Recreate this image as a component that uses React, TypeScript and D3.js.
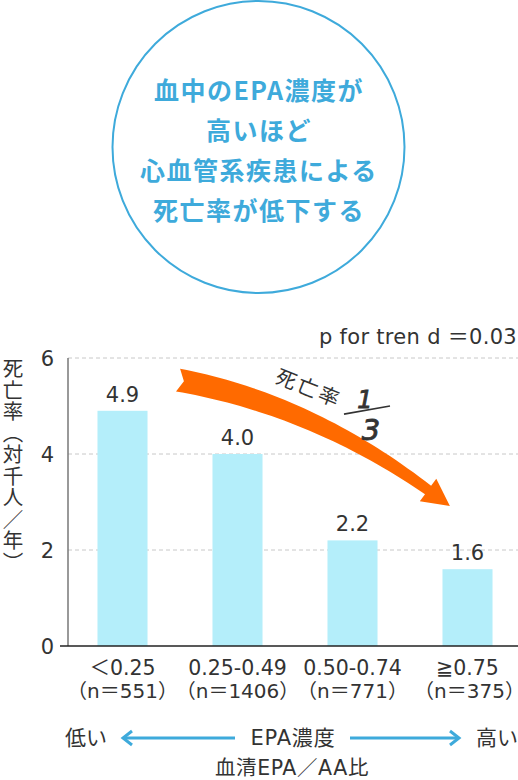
import React from "react";
import * as d3 from "d3";

const categories = ["＜0.25", "0.25-0.49", "0.50-0.74", "≧0.75"];
const sampleSizes = ["（n＝551）", "（n＝1406）", "（n＝771）", "（n＝375）"];
const deathRates = [4.9, 4.0, 2.2, 1.6];
const rateLabels = ["4.9", "4.0", "2.2", "1.6"];
const yTicks = [0, 2, 4, 6];
const titleLines = ["血中のEPA濃度が", "高いほど", "心血管系疾患による", "死亡率が低下する"];
const yAxisLabel = "死亡率（対千人／年）";
const trendText = "p for tren d ＝0.03";

const W = 518;
const H = 780;
const FONT = "'DejaVu Sans', 'Noto Sans CJK JP', sans-serif";
const CJK = "'Noto Sans CJK JP', sans-serif";
const TEXT = "#333";
const BLUE = "#3eaadb";
const ORANGE = "#ff6a00";
const BAR = "#b4eefa";

export default function App() {
  const x = d3.scaleBand<string>().domain(categories).range([65, 525]).paddingInner(0.565).paddingOuter(0.2825);
  const y = d3.scaleLinear().domain([0, 6]).range([646, 358]);
  const cx = (c: string) => (x(c) as number) + x.bandwidth() / 2;
  const xi = d3.scaleLinear().domain([0, categories.length - 1]).range([cx(categories[0]), cx(categories[categories.length - 1])]);
  const at = (i: number, v: number): [number, number] => [xi(i), y(v)];

  // orange trend arrow (annotation anchored in data space)
  const P0 = at(0.483, 5.54);
  const P1 = at(1.63, 5.04);
  const P2 = at(2.657, 3.25);
  const bez = (t: number): [number, number] => [
    (1 - t) * (1 - t) * P0[0] + 2 * (1 - t) * t * P1[0] + t * t * P2[0],
    (1 - t) * (1 - t) * P0[1] + 2 * (1 - t) * t * P1[1] + t * t * P2[1],
  ];
  const der = (t: number): [number, number] => {
    const dx = 2 * (1 - t) * (P1[0] - P0[0]) + 2 * t * (P2[0] - P1[0]);
    const dy = 2 * (1 - t) * (P1[1] - P0[1]) + 2 * t * (P2[1] - P1[1]);
    const l = Math.hypot(dx, dy);
    return [dx / l, dy / l];
  };
  const wid = (t: number) => 23 - 12.5 * Math.pow(t, 1.4);
  const N = 40;
  const side1: [number, number][] = [];
  const side2: [number, number][] = [];
  for (let k = 0; k <= N; k++) {
    const t = k / N;
    const p = bez(t);
    const d = der(t);
    const n = [-d[1], d[0]];
    const w = wid(t) / 2;
    side1.push([p[0] - n[0] * w, p[1] - n[1] * w]);
    side2.push([p[0] + n[0] * w, p[1] + n[1] * w]);
  }
  const dE = der(1);
  const nE = [-dE[1], dE[0]];
  const headHalf = 14;
  const headLen = 27;
  const tip: [number, number] = [P2[0] + dE[0] * headLen, P2[1] + dE[1] * headLen];
  const h1: [number, number] = [P2[0] - nE[0] * headHalf, P2[1] - nE[1] * headHalf];
  const h2: [number, number] = [P2[0] + nE[0] * headHalf, P2[1] + nE[1] * headHalf];
  const d0 = der(0);
  const notch: [number, number] = [P0[0] + d0[0] * 6, P0[1] + d0[1] * 6];
  const poly = [...side1, h1, tip, h2, ...side2.slice().reverse(), notch];
  const arrowPath = "M" + poly.map((p) => p[0].toFixed(1) + "," + p[1].toFixed(1)).join("L") + "Z";

  const ann = at(1.62, 5.375);
  const one = at(2.107, 4.96);
  const three = at(2.16, 4.29);
  const fracA = at(1.926, 4.83);
  const fracB = at(2.326, 5.0);

  return (
    <svg width={W} height={H} style={{ position: "absolute", left: 0, top: 0 }} fontFamily={FONT}>
      <rect width={W} height={H} fill="#fff" />
      {/* title circle */}
      <circle cx={258.5} cy={147} r={146} fill="none" stroke={BLUE} strokeWidth={2} />
      {titleLines.map((t, i) => (
        <text key={i} x={259} y={99.5 + i * 40.2} textAnchor="middle" fontSize={25} fontWeight={700} fill={BLUE} letterSpacing={1.5} fontFamily={CJK}>
          {t}
        </text>
      ))}

      {/* trend text */}
      <text x={517} y={344} textAnchor="end" fontSize={21} letterSpacing={0.3} fill={TEXT}>{trendText}</text>

      {/* gridlines */}
      {yTicks.filter((v) => v > 0).map((v) => (
        <line key={v} x1={68} x2={518} y1={y(v)} y2={y(v)} stroke="#c8c8c8" strokeWidth={1} strokeDasharray="4,3" />
      ))}
      {/* y tick labels */}
      {yTicks.map((v) => (
        <text key={v} x={54} y={y(v)} dy="0.36em" textAnchor="end" fontSize={21} fill={TEXT}>{v}</text>
      ))}

      {/* bars */}
      {categories.map((c, i) => (
        <rect key={c} x={x(c)} y={y(deathRates[i])} width={x.bandwidth()} height={y(0) - y(deathRates[i])} fill={BAR} />
      ))}
      {categories.map((c, i) => (
        <text key={c} x={cx(c)} y={y(deathRates[i]) - 9} textAnchor="middle" fontSize={21} fill={TEXT}>{rateLabels[i]}</text>
      ))}

      {/* axes */}
      <line x1={68} x2={68} y1={358} y2={646} stroke="#777" strokeWidth={1.5} />
      <line x1={60} x2={518} y1={646} y2={646} stroke="#222" strokeWidth={1.6} />

      {/* x labels */}
      {categories.map((c, i) => (
        <g key={c}>
          <text x={cx(c)} y={675} textAnchor="middle" fontSize={20.5} fill={TEXT}>{c}</text>
          <text x={cx(c) + (i === 3 ? 2 : 0)} y={698} textAnchor="middle" fontSize={20} fill={TEXT}>{sampleSizes[i]}</text>
        </g>
      ))}

      {/* y axis label */}
      <text x={13} y={358} fontSize={20.5} fill={TEXT} style={{ writingMode: "vertical-rl" }} letterSpacing={1} fontFamily={CJK}>
        {yAxisLabel}
      </text>

      {/* orange arrow */}
      <path d={arrowPath} fill={ORANGE} />
      <text x={ann[0]} y={ann[1]} textAnchor="middle" dy="0.36em" fontSize={20.5} letterSpacing={2.5} fill={TEXT} transform={`rotate(22 ${ann[0]} ${ann[1]})`} fontFamily={CJK}>死亡率</text>
      <text x={one[0]} y={one[1]} textAnchor="middle" fontSize={24} fontStyle="italic" fill={TEXT} stroke={TEXT} strokeWidth={0.9}>1</text>
      <line x1={fracA[0]} y1={fracA[1]} x2={fracB[0]} y2={fracB[1]} stroke={TEXT} strokeWidth={1.6} />
      <text x={three[0]} y={three[1]} textAnchor="middle" fontSize={29} fontStyle="italic" fill={TEXT} stroke={TEXT} strokeWidth={0.9}>3</text>

      {/* bottom direction arrows */}
      <text x={65} y={745} fontSize={21} fill={TEXT} fontFamily={CJK}>低い</text>
      <line x1={123} x2={235} y1={738} y2={738} stroke={BLUE} strokeWidth={3} />
      <polyline points="132,731 123,738 132,745" fill="none" stroke={BLUE} strokeWidth={3} strokeLinejoin="miter" />
      <text x={293} y={745} textAnchor="middle" fontSize={21} letterSpacing={0.8} fill={TEXT}>EPA濃度</text>
      <line x1={350} x2={459} y1={738} y2={738} stroke={BLUE} strokeWidth={3} />
      <polyline points="450,731 459,738 450,745" fill="none" stroke={BLUE} strokeWidth={3} strokeLinejoin="miter" />
      <text x={476} y={745} fontSize={21} fill={TEXT} fontFamily={CJK}>高い</text>
      <text x={292} y={775} textAnchor="middle" fontSize={20.5} letterSpacing={0.6} fill={TEXT}>血清EPA／AA比</text>
    </svg>
  );
}
